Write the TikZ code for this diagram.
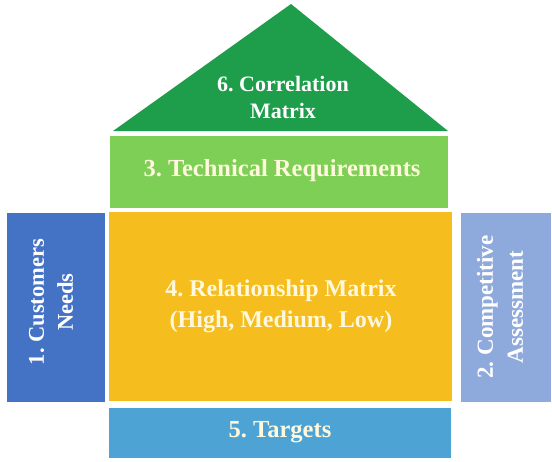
\documentclass[tikz,border=0pt]{standalone}
\usepackage{fontspec}
\setmainfont{Liberation Serif}[BoldFont={Liberation Serif Bold}]
\frenchspacing
\definecolor{roofgreen}{HTML}{1E9E4A}
\definecolor{techgreen}{HTML}{7DCF55}
\definecolor{relyellow}{HTML}{F6BD1E}
\definecolor{custblue}{HTML}{4472C4}
\definecolor{compblue}{HTML}{8EA9DB}
\definecolor{tgtblue}{HTML}{4DA4D4}
\definecolor{cream}{HTML}{FFF8DC}
\begin{document}
\begin{tikzpicture}[x=1pt,y=-1pt,
  lbl/.style={font=\fontsize{24.5}{28}\selectfont\bfseries, align=center, inner sep=0pt}]
\useasboundingbox[fill=white] (0,0) rectangle (552,461);
% roof
\fill[roofgreen] (113,131) -- (291,4) -- (448,131) -- cycle;
\node[lbl, text=white, font=\fontsize{22}{27}\selectfont\bfseries] (corr) at (283,97) {6. Correlation\\Matrix};
% technical requirements
\fill[techgreen] (110,136) rectangle (448,208);
\node[lbl, text=cream] (tech) at (282,171) {3. Technical Requirements};
% relationship matrix
\fill[relyellow] (109,212) rectangle (452,401);
\node[lbl, text=cream, font=\fontsize{24}{31}\selectfont\bfseries] (rel) at (281,306) {4. Relationship Matrix\\(High, Medium, Low)};
% customers needs
\fill[custblue] (7,213) rectangle (105,402);
\node[lbl, text=white, rotate=90, font=\fontsize{22.5}{29}\selectfont\bfseries] (cust) at (51,302) {1. Customers\\Needs};
% competitive assessment
\fill[compblue] (461,213) rectangle (551,402);
\node[lbl, text=white, rotate=90, font=\fontsize{23}{30}\selectfont\bfseries] (comp) at (500,307) {2. Competitive\\Assessment};
% targets
\fill[tgtblue] (109,408) rectangle (451,458);
\node[lbl, text=cream] (tgt) at (280,432) {5. Targets};
\end{tikzpicture}
\end{document}
